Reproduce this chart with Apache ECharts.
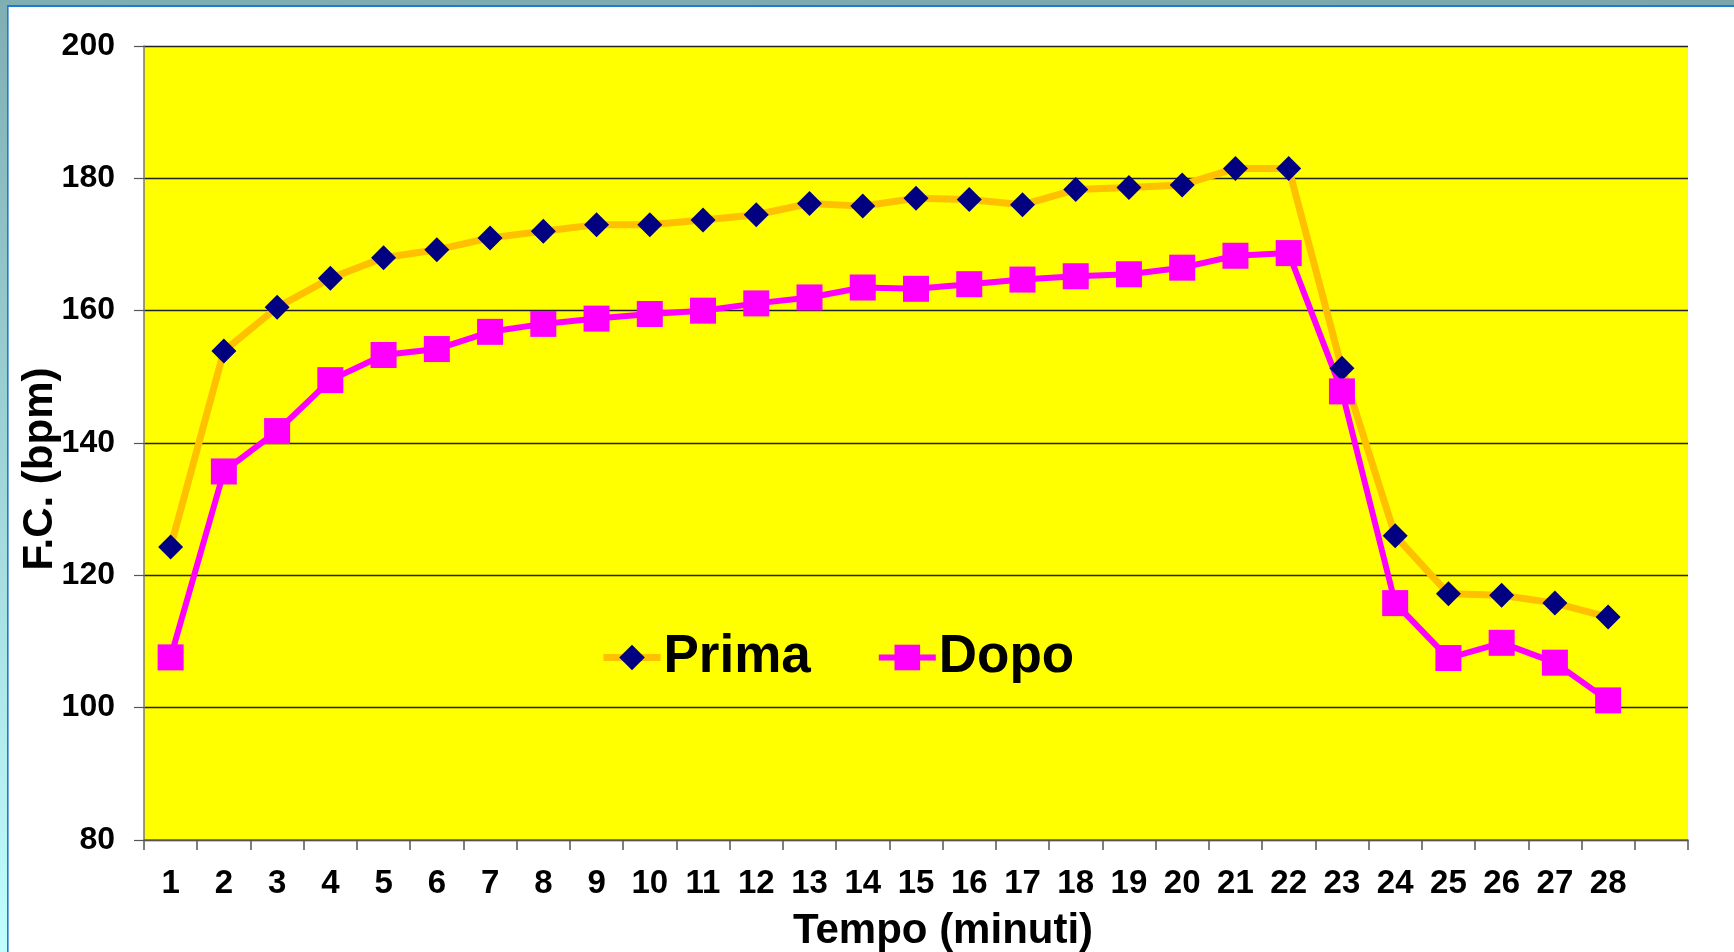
<!DOCTYPE html>
<html>
<head>
<meta charset="utf-8">
<script src="https://cdn.jsdelivr.net/npm/echarts@6/dist/echarts.min.js"></script>
<style>
html,body{margin:0;padding:0;background:#ffffff;}
#c{width:1734px;height:952px;}
</style>
</head>
<body>
<div id="c"></div>
<script>
const categories = ['1','2','3','4','5','6','7','8','9','10','11','12','13','14','15','16','17','18','19','20','21','22','23','24','25','26','27','28',''];
const prima = [124.3,153.9,160.5,164.9,168.0,169.2,171.0,172.0,173.0,173.0,173.7,174.5,176.2,175.8,177.0,176.8,176.0,178.3,178.6,179.0,181.5,181.5,151.3,126.0,117.2,117.0,115.8,113.7];
const dopo = [107.6,135.7,141.8,149.5,153.3,154.2,156.8,158.0,158.8,159.5,160.0,161.1,162.0,163.5,163.3,164.0,164.7,165.2,165.5,166.5,168.3,168.7,147.8,115.8,107.5,109.8,106.8,101.1];
const seriesNames = ['Prima','Dopo'];
const yTitle = 'F.C. (bpm)';
const xTitle = 'Tempo (minuti)';

const FONT = '"Liberation Sans", Arial, sans-serif';
const chart = echarts.init(document.getElementById('c'), null, {renderer:'canvas'});
chart.setOption({
  animation:false,
  backgroundColor:'#ffffff',
  grid:{left:144, top:46, right:46, bottom:112, show:true, backgroundColor:'#FFFF00', borderWidth:0},
  legend:{
    left:600, top:631, padding:0, itemGap:65, itemWidth:57, itemHeight:32,
    lineStyle:{width:7},
    textStyle:{fontFamily:FONT, fontWeight:'bold', fontSize:53, color:'#000', padding:[0,0,0,-2]},
    data:[{name:seriesNames[0], lineStyle:{width:7}}, {name:seriesNames[1], lineStyle:{width:6}}]
  },
  xAxis:{
    type:'category', data:categories, boundaryGap:true,
    axisLine:{show:true, lineStyle:{color:'#666666', width:1.5}},
    axisTick:{show:true, interval:0, length:10, lineStyle:{color:'#555555', width:1.5}},
    axisLabel:{interval:0, margin:27, fontFamily:FONT, fontWeight:'bold', fontSize:33, color:'#000'},
    splitLine:{show:false}
  },
  yAxis:{
    type:'value', min:80, max:200, interval:20,
    axisLine:{show:true, lineStyle:{color:'#777777', width:1.5}},
    axisTick:{show:true, length:10, lineStyle:{color:'#555555', width:1.2}},
    axisLabel:{margin:29, fontFamily:FONT, fontWeight:'bold', fontSize:32, color:'#000'},
    splitLine:{show:true, lineStyle:{color:'#222222', width:1.3}}
  },
  graphic:[
    {type:'rect', shape:{x:0,y:0,width:1734,height:5}, style:{fill:new echarts.graphic.LinearGradient(0,0,1,0,[{offset:0,color:'#7FAEB3'},{offset:1,color:'#7BA7AA'}])}, silent:true},
    {type:'rect', shape:{x:0,y:0,width:7,height:952}, style:{fill:new echarts.graphic.LinearGradient(0,0,0,1,[{offset:0,color:'#7FAEB3'},{offset:1,color:'#C0FEFF'}])}, silent:true},
    {type:'rect', shape:{x:7,y:5,width:1727,height:2}, style:{fill:'#1F7BD2'}, silent:true},
    {type:'rect', shape:{x:7,y:5,width:1.6,height:947}, style:{fill:'#1F7BD2'}, silent:true},
    {type:'text', x:40, y:469, rotation:Math.PI/2,
      style:{text:yTitle, fontFamily:FONT, fontWeight:'bold', fontSize:42, fill:'#000', align:'center', verticalAlign:'middle'}},
    {type:'text', x:943, y:931,
      style:{text:xTitle, fontFamily:FONT, fontWeight:'bold', fontSize:42, fill:'#000', align:'center', verticalAlign:'middle'}}
  ],
  series:[
    {name:seriesNames[0], type:'line', data:prima, symbol:'diamond', symbolSize:25,
      itemStyle:{color:'#000080', borderWidth:0},
      lineStyle:{color:'#FFC000', width:7}},
    {name:seriesNames[1], type:'line', data:dopo, symbol:'rect', symbolSize:26,
      itemStyle:{color:'#FF00FF', borderWidth:0},
      lineStyle:{color:'#FF00FF', width:6}}
  ]
});
</script>
</body>
</html>
